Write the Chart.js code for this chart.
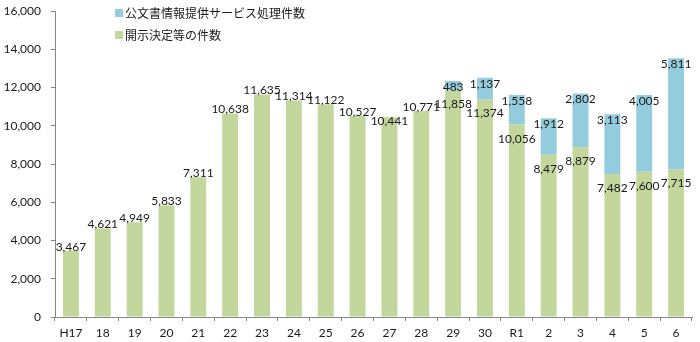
<!DOCTYPE html>
<html lang="ja">
<head>
<meta charset="utf-8">
<script src="https://cdn.jsdelivr.net/npm/chart.js@4/dist/chart.umd.min.js"></script>
<style>
  html, body { margin: 0; padding: 0; background: #fff; }
  #wrap { width: 700px; height: 342px; }
</style>
</head>
<body>
<div id="wrap"><canvas id="chart"></canvas></div>
<script>
const years = ["H17", "18", "19", "20", "21", "22", "23", "24", "25", "26",
  "27", "28", "29", "30", "R1", "2", "3", "4", "5", "6"];

// 開示決定等の件数
const disclosures = [3467, 4621, 4949, 5833, 7311, 10638, 11635, 11314, 11122, 10527,
  10441, 10771, 11858, 11374, 10056, 8479, 8879, 7482, 7600, 7715];

// 公文書情報提供サービス処理件数 (from H29)
const infoService = [null, null, null, null, null, null, null, null, null, null,
  null, null, 483, 1137, 1558, 1912, 2802, 3113, 4005, 5811];

const yTicks = [0, 2000, 4000, 6000, 8000, 10000, 12000, 14000, 16000];

const GREEN = "#c3d69b";
const BLUE = "#93cddd";
const TEXT = "#1a1a1a";
const LABEL_FONT = "12px Lato, 'Noto Sans', sans-serif";
const LEGEND_FONT = "12px 'Noto Sans CJK JP', sans-serif";

const fmt = v => v.toLocaleString("en-US");

/* ---------- value labels + legend ---------- */
const overlay = {
  id: "overlay",
  afterDatasetsDraw(chart) {
    const ctx = chart.ctx;
    const green = chart.getDatasetMeta(0).data;
    const blue = chart.getDatasetMeta(1).data;

    ctx.save();
    ctx.font = LABEL_FONT;
    ctx.fillStyle = TEXT;
    ctx.textAlign = "center";
    ctx.textBaseline = "middle";

    // labels sit just over the bar top; when one lands at almost the same
    // height as the label before it, drop it a line so they don't run together
    let prev = null;
    green.forEach((bar, i) => {
      const text = fmt(disclosures[i]);
      const stacked = infoService[i] != null;
      let y = stacked ? bar.y + 14 : bar.y - 4;
      if (!stacked && prev && Math.abs(prev.y - y) < 3) y = prev.y + 9;
      ctx.fillText(text, bar.x, y);
      prev = { y };
    });

    blue.forEach((bar, i) => {
      if (infoService[i] == null) return;
      ctx.fillText(fmt(infoService[i]), bar.x, bar.y + 6);
    });

    // legend inside the plot, top left
    const items = [
      { text: "公文書情報提供サービス処理件数", color: BLUE },
      { text: "開示決定等の件数", color: GREEN }
    ];
    ctx.font = LEGEND_FONT;
    ctx.textAlign = "left";
    items.forEach((it, k) => {
      const y = 13 + k * 22;
      ctx.fillStyle = it.color;
      ctx.fillRect(115, y - 4, 8, 8);
      ctx.fillStyle = TEXT;
      ctx.fillText(it.text, 125, y);
    });
    ctx.restore();
  }
};

new Chart(document.getElementById("chart"), {
  type: "bar",
  data: {
    labels: years,
    datasets: [
      {
        label: "開示決定等の件数",
        data: disclosures,
        backgroundColor: GREEN,
        barPercentage: 0.5,
        categoryPercentage: 1
      },
      {
        label: "公文書情報提供サービス処理件数",
        data: infoService,
        backgroundColor: BLUE,
        barPercentage: 0.5,
        categoryPercentage: 1
      }
    ]
  },
  options: {
    responsive: true,
    maintainAspectRatio: false,
    animation: false,
    layout: { padding: { top: 11, right: 8, left: 0, bottom: 0 } },
    plugins: {
      legend: { display: false },
      tooltip: { enabled: false }
    },
    scales: {
      x: {
        stacked: true,
        border: { color: "#868686" },
        grid: {
          drawOnChartArea: false,
          offset: true,
          color: "#868686",
          tickLength: 4
        },
        ticks: {
          color: TEXT,
          font: { family: "Lato, 'Noto Sans', sans-serif", size: 12 },
          padding: 5,
          maxRotation: 0,
          autoSkip: false
        },
        afterFit(scale) {
          scale.height = 25;
          scale.paddingLeft = 0;
          scale.paddingRight = 0;
        }
      },
      y: {
        stacked: true,
        min: 0,
        max: 16000,
        border: { color: "#868686" },
        grid: {
          drawOnChartArea: false,
          color: "#868686",
          tickLength: 4
        },
        afterBuildTicks(scale) {
          scale.ticks = yTicks.map(v => ({ value: v }));
        },
        ticks: {
          color: TEXT,
          font: { family: "Lato, 'Noto Sans', sans-serif", size: 12 },
          padding: 10,
          callback: v => fmt(v)
        },
        afterFit(scale) {
          scale.width = 55;
          scale.paddingTop = 0;
          scale.paddingBottom = 0;
        }
      }
    }
  },
  plugins: [overlay]
});
</script>
</body>
</html>
